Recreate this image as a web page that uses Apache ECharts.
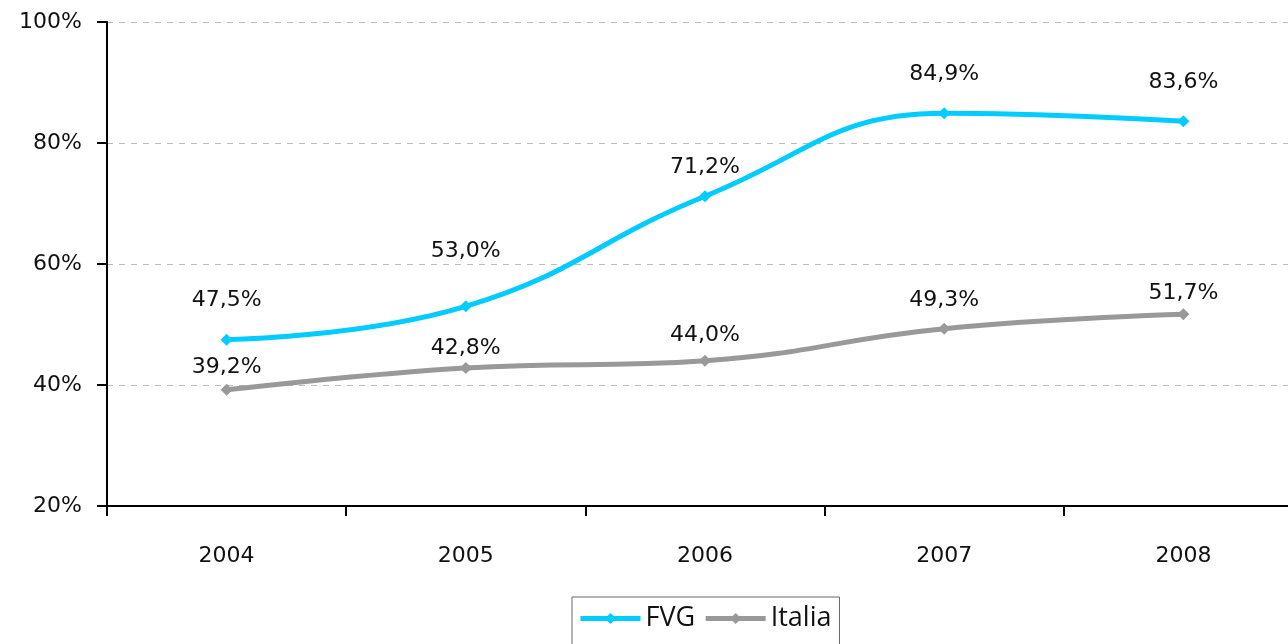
<!DOCTYPE html>
<html>
<head>
<meta charset="utf-8">
<script src="https://cdn.jsdelivr.net/npm/echarts@6/dist/echarts.min.js"></script>
<style>
  html, body { margin: 0; padding: 0; background: #fff; overflow: hidden; }
  /* l'asse x prosegue oltre il bordo destro, come nell'originale */
  #main { width: 1303px; height: 644px; }
</style>
</head>
<body>
<div id="main"></div>
<script>
// dati
var years = ['2004', '2005', '2006', '2007', '2008'];
var fvg = [47.5, 53.0, 71.2, 84.9, 83.6];
var italia = [39.2, 42.8, 44.0, 49.3, 51.7];
var yTicks = [20, 40, 60, 80, 100];

// distanza etichette (px) sopra il punto
var fvgLabelGap = [17, 33, 7, 17, 17];
var itaLabelGap = [1, -2, 4, 6, -1];

var fmt = function (v) {
  return v.toFixed(1).replace('.', ',') + '%';
};

function buildData(values, gaps) {
  return values.map(function (v, i) {
    return { value: v, label: { offset: [0, -gaps[i]] } };
  });
}

var labelFont = { fontFamily: 'DejaVu Sans', fontSize: 22, color: '#111' };

var chart = echarts.init(document.getElementById('main'));
chart.setOption({
  animation: false,
  grid: { left: 107, right: 0, top: 22, bottom: 138 },
  legend: {
    left: 572,
    top: 597,
    padding: [8, 8, 20, 6],
    borderColor: '#666',
    borderWidth: 1,
    itemWidth: 60,
    itemHeight: 14,
    itemGap: 8,
    lineStyle: { width: 5 },
    textStyle: { fontFamily: 'Liberation Sans Narrow, Open Sans', fontSize: 27, color: '#111' },
    data: ['FVG', 'Italia']
  },
  xAxis: {
    type: 'category',
    data: years,
    boundaryGap: true,
    axisLine: { lineStyle: { color: '#000', width: 2 } },
    axisTick: { show: true, interval: 0, length: 10, lineStyle: { color: '#000', width: 2 } },
    axisLabel: Object.assign({ margin: 39 }, labelFont)
  },
  yAxis: {
    type: 'value',
    min: yTicks[0],
    max: yTicks[yTicks.length - 1],
    interval: 20,
    axisLine: { show: true, lineStyle: { color: '#000', width: 2 } },
    axisTick: { show: true, length: 10, lineStyle: { color: '#000', width: 2 } },
    axisLabel: Object.assign({ margin: 25, formatter: '{value}%' }, labelFont),
    splitLine: { lineStyle: { color: '#bbb', type: [6, 6], width: 1 } }
  },
  series: [
    {
      name: 'FVG',
      type: 'line',
      smooth: 0.45,
      smoothConstraint: false,
      data: buildData(fvg, fvgLabelGap),
      symbol: 'diamond',
      symbolSize: 12,
      lineStyle: { color: '#00CCFF', width: 5 },
      itemStyle: { color: '#00CCFF' },
      label: Object.assign({
        show: true,
        position: 'top',
        formatter: function (p) { return fmt(p.value); }
      }, labelFont)
    },
    {
      name: 'Italia',
      type: 'line',
      smooth: 0.45,
      smoothConstraint: false,
      data: buildData(italia, itaLabelGap),
      symbol: 'diamond',
      symbolSize: 12,
      lineStyle: { color: '#999999', width: 5 },
      itemStyle: { color: '#999999' },
      label: Object.assign({
        show: true,
        position: 'top',
        formatter: function (p) { return fmt(p.value); }
      }, labelFont)
    }
  ]
});
</script>
</body>
</html>
